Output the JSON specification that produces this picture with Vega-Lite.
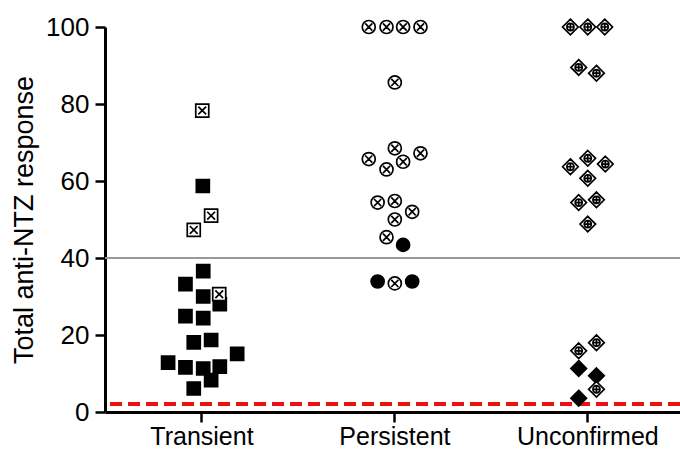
{
  "$schema": "https://vega.github.io/schema/vega-lite/v6.json",
  "width": 575,
  "height": 385,
  "autosize": "none",
  "padding": {"left": 105, "top": 27, "right": 0, "bottom": 38},
  "config": {
    "view": {"stroke": null},
    "font": "Liberation Sans"
  },
  "data": {
    "values": [
      {"g": "Transient", "x": 1.004, "y": 78.3, "m": "sq_x", "f": "open"},
      {"g": "Transient", "x": 1.007, "y": 58.7, "m": "sq_f", "f": "filled"},
      {"g": "Transient", "x": 1.050, "y": 51.0, "m": "sq_x", "f": "open"},
      {"g": "Transient", "x": 0.960, "y": 47.3, "m": "sq_x", "f": "open"},
      {"g": "Transient", "x": 1.009, "y": 36.6, "m": "sq_f", "f": "filled"},
      {"g": "Transient", "x": 0.917, "y": 33.2, "m": "sq_f", "f": "filled"},
      {"g": "Transient", "x": 1.009, "y": 30.0, "m": "sq_f", "f": "filled"},
      {"g": "Transient", "x": 1.095, "y": 28.0, "m": "sq_f", "f": "filled"},
      {"g": "Transient", "x": 1.092, "y": 30.6, "m": "sq_x", "f": "open"},
      {"g": "Transient", "x": 0.917, "y": 24.9, "m": "sq_f", "f": "filled"},
      {"g": "Transient", "x": 1.009, "y": 24.4, "m": "sq_f", "f": "filled"},
      {"g": "Transient", "x": 0.960, "y": 18.1, "m": "sq_f", "f": "filled"},
      {"g": "Transient", "x": 1.050, "y": 18.7, "m": "sq_f", "f": "filled"},
      {"g": "Transient", "x": 1.185, "y": 15.1, "m": "sq_f", "f": "filled"},
      {"g": "Transient", "x": 0.827, "y": 12.8, "m": "sq_f", "f": "filled"},
      {"g": "Transient", "x": 0.917, "y": 11.6, "m": "sq_f", "f": "filled"},
      {"g": "Transient", "x": 1.009, "y": 11.3, "m": "sq_f", "f": "filled"},
      {"g": "Transient", "x": 1.095, "y": 11.8, "m": "sq_f", "f": "filled"},
      {"g": "Transient", "x": 1.050, "y": 8.3, "m": "sq_f", "f": "filled"},
      {"g": "Transient", "x": 0.960, "y": 6.1, "m": "sq_f", "f": "filled"},
      {"g": "Persistent", "x": 1.867, "y": 100, "m": "ci_x", "f": "open"},
      {"g": "Persistent", "x": 1.959, "y": 100, "m": "ci_x", "f": "open"},
      {"g": "Persistent", "x": 2.045, "y": 100, "m": "ci_x", "f": "open"},
      {"g": "Persistent", "x": 2.135, "y": 100, "m": "ci_x", "f": "open"},
      {"g": "Persistent", "x": 2.002, "y": 85.6, "m": "ci_x", "f": "open"},
      {"g": "Persistent", "x": 2.002, "y": 68.5, "m": "ci_x", "f": "open"},
      {"g": "Persistent", "x": 1.867, "y": 65.7, "m": "ci_x", "f": "open"},
      {"g": "Persistent", "x": 2.135, "y": 67.2, "m": "ci_x", "f": "open"},
      {"g": "Persistent", "x": 2.045, "y": 65.0, "m": "ci_x", "f": "open"},
      {"g": "Persistent", "x": 1.959, "y": 63.0, "m": "ci_x", "f": "open"},
      {"g": "Persistent", "x": 1.913, "y": 54.4, "m": "ci_x", "f": "open"},
      {"g": "Persistent", "x": 2.002, "y": 54.8, "m": "ci_x", "f": "open"},
      {"g": "Persistent", "x": 2.092, "y": 52.0, "m": "ci_x", "f": "open"},
      {"g": "Persistent", "x": 2.002, "y": 50.0, "m": "ci_x", "f": "open"},
      {"g": "Persistent", "x": 1.959, "y": 45.4, "m": "ci_x", "f": "open"},
      {"g": "Persistent", "x": 2.045, "y": 43.4, "m": "ci_f", "f": "filled"},
      {"g": "Persistent", "x": 1.913, "y": 33.9, "m": "ci_f", "f": "filled"},
      {"g": "Persistent", "x": 2.002, "y": 33.4, "m": "ci_x", "f": "open"},
      {"g": "Persistent", "x": 2.092, "y": 33.9, "m": "ci_f", "f": "filled"},
      {"g": "Unconfirmed", "x": 2.912, "y": 100, "m": "di_p", "f": "open"},
      {"g": "Unconfirmed", "x": 3.002, "y": 100, "m": "di_p", "f": "open"},
      {"g": "Unconfirmed", "x": 3.090, "y": 100, "m": "di_p", "f": "open"},
      {"g": "Unconfirmed", "x": 2.955, "y": 89.5, "m": "di_p", "f": "open"},
      {"g": "Unconfirmed", "x": 3.047, "y": 88.0, "m": "di_p", "f": "open"},
      {"g": "Unconfirmed", "x": 3.002, "y": 65.9, "m": "di_p", "f": "open"},
      {"g": "Unconfirmed", "x": 2.912, "y": 63.7, "m": "di_p", "f": "open"},
      {"g": "Unconfirmed", "x": 3.093, "y": 64.4, "m": "di_p", "f": "open"},
      {"g": "Unconfirmed", "x": 3.002, "y": 60.7, "m": "di_p", "f": "open"},
      {"g": "Unconfirmed", "x": 2.955, "y": 54.4, "m": "di_p", "f": "open"},
      {"g": "Unconfirmed", "x": 3.047, "y": 55.1, "m": "di_p", "f": "open"},
      {"g": "Unconfirmed", "x": 3.002, "y": 48.8, "m": "di_p", "f": "open"},
      {"g": "Unconfirmed", "x": 3.047, "y": 18.0, "m": "di_p", "f": "open"},
      {"g": "Unconfirmed", "x": 2.955, "y": 15.9, "m": "di_p", "f": "open"},
      {"g": "Unconfirmed", "x": 2.955, "y": 11.3, "m": "di_f", "f": "filled"},
      {"g": "Unconfirmed", "x": 3.047, "y": 9.4, "m": "di_f", "f": "filled"},
      {"g": "Unconfirmed", "x": 3.047, "y": 5.9, "m": "di_p", "f": "open"},
      {"g": "Unconfirmed", "x": 2.955, "y": 3.6, "m": "di_f", "f": "filled"}
    ]
  },
  "layer": [
    {
      "mark": {"type": "rule", "color": "#999999", "strokeWidth": 1.5},
      "encoding": {"y": {"datum": 40, "type": "quantitative"}}
    },
    {
      "mark": {"type": "rule", "color": "#ee1111", "strokeWidth": 3, "strokeDash": [12, 6]},
      "encoding": {"y": {"datum": 2, "type": "quantitative"}}
    },
    {
      "mark": {"type": "point", "filled": true, "stroke": "black", "strokeWidth": 1.7, "size": 169, "opacity": 1, "clip": false},
      "encoding": {
        "x": {
          "field": "x",
          "type": "quantitative",
          "scale": {"domain": [0.5, 3.48], "nice": false, "zero": false},
          "axis": {
            "values": [1, 2, 3],
            "labelExpr": "['','Transient','Persistent','Unconfirmed'][datum.value]",
            "title": null,
            "grid": false,
            "domainColor": "black",
            "domainWidth": 3,
            "tickColor": "black",
            "tickWidth": 2.5,
            "tickSize": 10,
            "labelFontSize": 25,
            "labelColor": "black",
            "labelPadding": 2,
            "labelFont": "Liberation Sans"
          }
        },
        "y": {
          "field": "y",
          "type": "quantitative",
          "scale": {"domain": [0, 100], "nice": false},
          "axis": {
            "values": [0, 20, 40, 60, 80, 100],
            "title": "Total anti-NTZ response",
            "grid": false,
            "domainColor": "black",
            "domainWidth": 3,
            "tickColor": "black",
            "tickWidth": 2.5,
            "tickSize": 10,
            "labelFontSize": 26,
            "labelColor": "black",
            "labelPadding": 6,
            "labelFont": "Liberation Sans",
            "titleFont": "Liberation Sans",
            "titleFontSize": 27,
            "titleFontWeight": "normal",
            "titleColor": "black",
            "titlePadding": 7
          }
        },
        "shape": {
          "field": "m",
          "type": "nominal",
          "legend": null,
          "scale": {
            "domain": ["sq_f", "sq_x", "ci_f", "ci_x", "di_f", "di_p"],
            "range": [
              "M-1,-1H1V1H-1Z",
              "M-1,-1H1V1H-1Z M-0.6,-0.6L0.6,0.6 M0.6,-0.6L-0.6,0.6",
              "M1,0A1,1 0 1,1 -1,0A1,1 0 1,1 1,0Z",
              "M1,0A1,1 0 1,1 -1,0A1,1 0 1,1 1,0Z M-0.55,-0.55L0.55,0.55 M0.55,-0.55L-0.55,0.55",
              "M0,-1.2L1.2,0L0,1.2L-1.2,0Z",
              "M0,-1.2L1.2,0L0,1.2L-1.2,0Z M0.55,0A0.55,0.55 0 1,1 -0.55,0A0.55,0.55 0 1,1 0.55,0Z M-0.6,0H0.6 M0,-0.6V0.6"
            ]
          }
        },
        "fill": {
          "field": "f",
          "type": "nominal",
          "legend": null,
          "scale": {"domain": ["filled", "open"], "range": ["black", "white"]}
        }
      }
    }
  ]
}
